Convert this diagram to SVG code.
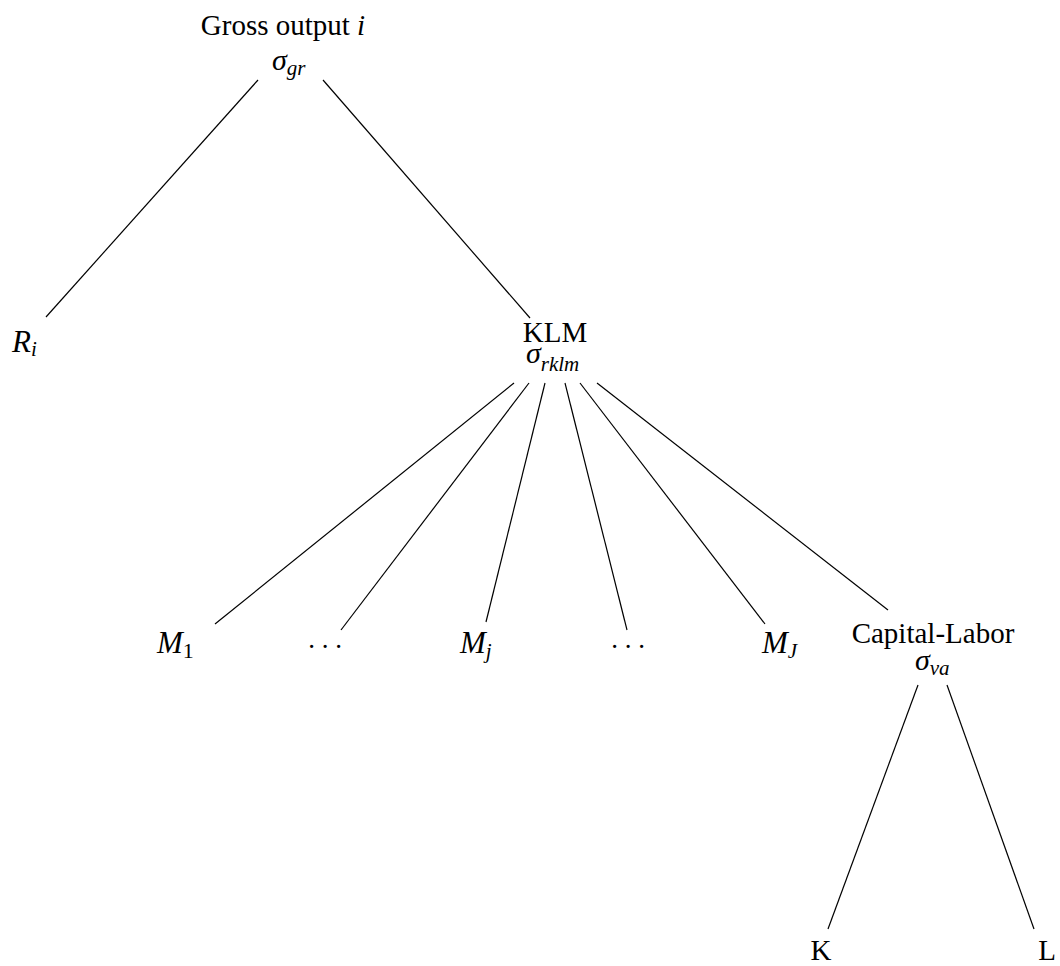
<svg xmlns="http://www.w3.org/2000/svg" width="1060" height="966" viewBox="0 0 1060 966">
<style>
.t{font-family:"Liberation Serif","DejaVu Serif",serif;font-size:29px;fill:#000;text-anchor:middle}
.m{font-family:"Liberation Serif","DejaVu Serif",serif;font-style:italic;font-size:31px;fill:#000}
.g{font-family:"Liberation Serif","DejaVu Serif",serif;font-style:italic;font-size:30px;fill:#000}
.s{font-style:italic;font-size:21px}
.u{font-style:normal;font-size:22px}
.d{font-family:"Liberation Serif","DejaVu Serif",serif;font-size:27px;fill:#000;text-anchor:middle}
.e{stroke:#000;stroke-width:1.2;fill:none}
</style>
<rect width="1060" height="966" fill="#fff"/>
<g id="connectors">
<line class="e" x1="258" y1="80" x2="46" y2="317"/>
<line class="e" x1="323" y1="80" x2="530" y2="318"/>
<line class="e" x1="514" y1="383" x2="215" y2="624"/>
<line class="e" x1="529" y1="383" x2="341" y2="630"/>
<line class="e" x1="545" y1="383" x2="486" y2="622"/>
<line class="e" x1="565" y1="383" x2="627" y2="630"/>
<line class="e" x1="580" y1="383" x2="765" y2="624"/>
<line class="e" x1="597" y1="383" x2="888" y2="610"/>
<line class="e" x1="918" y1="685" x2="828" y2="929"/>
<line class="e" x1="947" y1="685" x2="1034" y2="929"/>
</g>
<g id="gross">
<text class="t" x="283" y="35">Gross output <tspan style="font-style:italic">i</tspan></text>
<text class="g" x="272" y="70">σ<tspan class="s" dy="5">gr</tspan></text>
</g>
<g id="Ri"><text class="m" x="12" y="352">R<tspan class="s" dy="4">i</tspan></text></g>
<g id="klm">
<text class="t" x="555" y="342">KLM</text>
<text class="g" x="526" y="363">σ<tspan class="s" dy="8">rklm</tspan></text>
</g>
<g id="M1"><text class="m" x="157" y="653">M<tspan class="u" dy="5">1</tspan></text></g>
<g id="dots1"><text class="d" x="325" y="648">. . .</text></g>
<g id="Mj"><text class="m" x="460" y="653">M<tspan class="s" dy="5">j</tspan></text></g>
<g id="dots2"><text class="d" x="628" y="648">. . .</text></g>
<g id="MJ"><text class="m" x="762" y="653">M<tspan class="s" dy="5">J</tspan></text></g>
<g id="cl">
<text class="t" x="933" y="643">Capital-Labor</text>
<text class="g" x="915" y="670">σ<tspan class="s" dy="5">va</tspan></text>
</g>
<g id="K"><text class="t" x="821" y="960">K</text></g>
<g id="L"><text class="t" x="1047" y="960">L</text></g>
</svg>
